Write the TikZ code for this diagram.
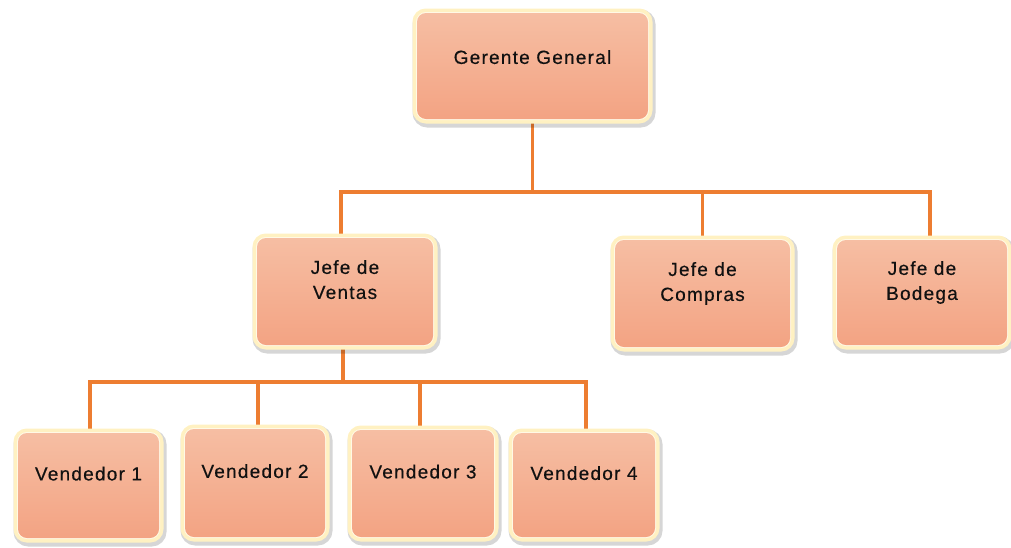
\documentclass[tikz,border=0pt]{standalone}
\usepackage{fontspec}
\setmainfont{Liberation Sans}[LetterSpace=6.5,FakeBold=0.4]
\usetikzlibrary{backgrounds}
\definecolor{filltop}{HTML}{F6BEA3}
\definecolor{fillbot}{HTML}{F3A383}
\definecolor{cream}{HTML}{FFF1C2}
\definecolor{linec}{HTML}{ED7D31}
\definecolor{txt}{HTML}{111111}
\tikzset{
  orgbox/.style={rectangle, rounded corners=9pt, inner sep=2pt, align=center,
    top color=filltop, bottom color=fillbot, draw=none,
    font=\fontsize{19}{25}\selectfont, text=txt, text depth=24pt,
    preaction={draw=black, draw opacity=0.16, line width=12pt,
      transform canvas={xshift=1.5pt,yshift=-2.5pt}},
    preaction={draw=cream, line width=9pt},
    preaction={draw=white, draw opacity=0.6, line width=2pt}},
  conn/.style={draw=linec, line width=3.3pt, line cap=rect}
}
\begin{document}
\begin{tikzpicture}[x=1pt,y=-1pt]
\useasboundingbox (0,0) rectangle (1011,547);
\node[orgbox, text depth=18pt, minimum width=231pt, minimum height=106pt] (gg) at (532.5,66) {Gerente General};
\node[orgbox, minimum width=176pt, minimum height=107pt] (jv) at (345,291.5) {Jefe de\\Ventas};
\node[orgbox, minimum width=175pt, minimum height=107pt] (jc) at (702.5,293.5) {Jefe de\\Compras};
\node[orgbox, minimum width=170pt, minimum height=105pt] (jb) at (922,292.5) {Jefe de\\Bodega};
\node[orgbox, minimum width=141pt, minimum height=105pt] (v1) at (88.5,485.5) {Vendedor 1};
\node[orgbox, minimum width=140pt, minimum height=108pt] (v2) at (255,483) {Vendedor 2};
\node[orgbox, minimum width=142pt, minimum height=107pt] (v3) at (423,483.5) {Vendedor 3};
\node[orgbox, minimum width=142pt, minimum height=104pt] (v4) at (584,485) {Vendedor 4};
\coordinate (bus1) at (532.5,192);
\coordinate (bus2) at (343,382);
\begin{scope}[on background layer]
\draw[conn] (gg.south) -- (bus1);
\draw[conn] ([xshift=-4pt]jv.north) |- (bus1) -| ([xshift=8pt]jb.north);
\draw[conn] (jc.north) |- (bus1);
\draw[conn] (bus2 |- jv.south) -- (bus2);
\draw[conn] ([xshift=1.5pt]v1.north) |- (bus2) -| ([xshift=2pt]v4.north);
\draw[conn] ([xshift=3pt]v2.north) |- (bus2);
\draw[conn] ([xshift=-3pt]v3.north) |- (bus2);
\end{scope}
\end{tikzpicture}
\end{document}
